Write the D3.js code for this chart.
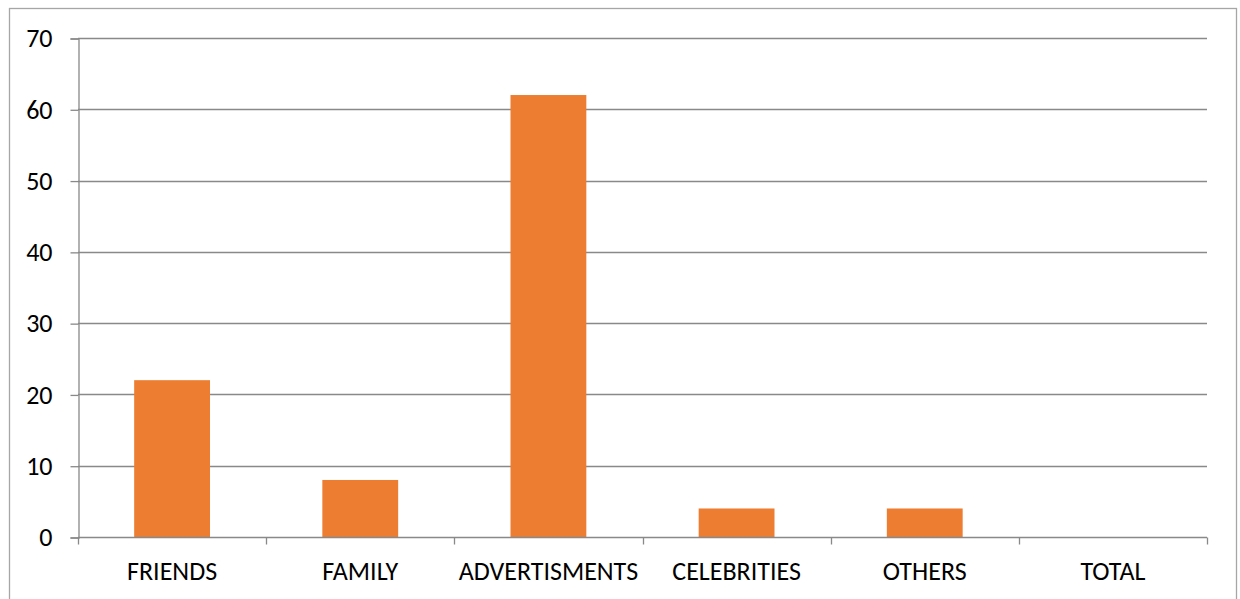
<!DOCTYPE html>
<html>
<head>
<meta charset="utf-8">
<script src="https://cdn.jsdelivr.net/npm/d3@7"></script>
<style>
  html, body { margin: 0; padding: 0; background: #fff; }
  svg { display: block; }
  text { font-family: Carlito, Lato, "Liberation Sans", sans-serif; fill: #000; }
</style>
</head>
<body>
<svg id="chart" width="1240" height="599"></svg>
<script>
// Survey responses by source
const categories = ["FRIENDS", "FAMILY", "ADVERTISMENTS", "CELEBRITIES", "OTHERS", "TOTAL"];
const values = [22, 8, 62, 4, 4, 0];
const yTicks = [0, 10, 20, 30, 40, 50, 60, 70];

const svg = d3.select("#chart");
const plot = { left: 78, right: 1207, top: 38, bottom: 537 };
const FONT = "Carlito, Lato, 'Liberation Sans', sans-serif";
const FS = 26;

// outer chart frame
svg.append("rect")
  .attr("x", 9.5).attr("y", 8.5)
  .attr("width", 1227).attr("height", 620)
  .attr("fill", "#fff")
  .attr("stroke", "#a6a6a6").attr("stroke-width", 1.3);

const x = d3.scaleBand().domain(categories).range([plot.left, plot.right]).padding(0);
const y = d3.scaleLinear().domain([0, 70]).range([plot.bottom, plot.top]);

// horizontal gridlines
svg.append("g")
  .selectAll("line")
  .data(yTicks.filter(d => d > 0))
  .join("line")
  .attr("x1", plot.left).attr("x2", plot.right)
  .attr("y1", d => Math.round(y(d)) + 0.5).attr("y2", d => Math.round(y(d)) + 0.5)
  .attr("stroke", "#898989").attr("stroke-width", 1.3);

// bars
const barFrac = 0.403;
svg.append("g")
  .selectAll("rect")
  .data(categories.map((c, i) => ({ c, v: values[i] })))
  .join("rect")
  .attr("x", d => x(d.c) + x.bandwidth() * (1 - barFrac) / 2)
  .attr("width", x.bandwidth() * barFrac)
  .attr("y", d => y(d.v))
  .attr("height", d => y(0) - y(d.v))
  .attr("fill", "#ED7D31");

// y axis
const yAxis = d3.axisLeft(y).tickValues(yTicks).tickSize(8).tickPadding(18);
const gy = svg.append("g").attr("transform", `translate(${plot.left + 0.5},0.5)`).call(yAxis);
gy.select(".domain").attr("stroke", "#898989").attr("stroke-width", 1.3);
gy.selectAll(".tick line").attr("stroke", "#898989").attr("stroke-width", 1.3);
gy.selectAll(".tick text").attr("font-size", FS).attr("font-family", FONT).attr("fill", "#000");

// x axis with ticks at category boundaries
const gx = svg.append("g").attr("transform", `translate(0,${plot.bottom + 0.5})`);
gx.append("line")
  .attr("x1", plot.left).attr("x2", plot.right)
  .attr("stroke", "#898989").attr("stroke-width", 1.3);
const bounds = categories.map(c => x(c)).concat([x(categories[categories.length - 1]) + x.bandwidth()]);
gx.selectAll("line.tk")
  .data(bounds)
  .join("line")
  .attr("class", "tk")
  .attr("x1", d => Math.round(d) + 0.5).attr("x2", d => Math.round(d) + 0.5)
  .attr("y1", 0).attr("y2", 7)
  .attr("stroke", "#898989").attr("stroke-width", 1.3);
gx.selectAll("text")
  .data(categories)
  .join("text")
  .attr("x", d => x(d) + x.bandwidth() / 2)
  .attr("y", 42)
  .attr("text-anchor", "middle")
  .attr("font-size", FS)
  .text(d => d);
</script>
</body>
</html>
